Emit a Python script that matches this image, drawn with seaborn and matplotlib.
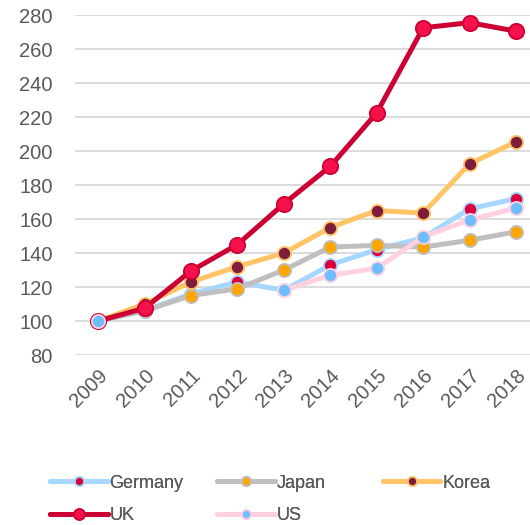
import matplotlib
matplotlib.use("Agg")
import matplotlib.pyplot as plt
from matplotlib.lines import Line2D
import seaborn as sns
import pandas as pd
import numpy as np

# index values (2009 = 100); US has no points for 2010-2012
years = [2009, 2010, 2011, 2012, 2013, 2014, 2015, 2016, 2017, 2018]
germany = [100, 106, 116, 123, 118, 133, 142, 149, 166, 172]
japan = [100, 106, 115, 119, 130, 143.5, 144.5, 143.5, 147.5, 152.5]
korea = [100, 110, 123, 132, 140, 155, 165, 163.5, 192.5, 205.5]
uk = [100, 107.5, 129.5, 145, 169, 191, 222.5, 272.5, 275.5, 270.5]
us = [100, None, None, None, 118, 127, 131, 149.5, 159.5, 166.5]

countries = ["Germany", "Japan", "Korea", "UK", "US"]
series = [germany, japan, korea, uk, us]

# line colour, marker fill, marker edge, line width, marker size
styles = {
    "Germany": ("#A6D7FF", "#D9003C", "#A6D7FF", 3.6, 9.5),
    "Japan": ("#BFBFBF", "#FFA500", "#BFBFBF", 3.6, 9.5),
    "Korea": ("#FFC466", "#7E1C3C", "#FFC466", 3.6, 9.5),
    "UK": ("#CC0033", "#F5124C", "#CC0033", 3.6, 11),
    "US": ("#FFD1DF", "#6EBEFF", "#FFD1DF", 3.6, 9.5),
}

df = pd.DataFrame({
    "year": years * len(countries),
    "value": [np.nan if v is None else v for s in series for v in s],
    "country": [c for c in countries for _ in years],
})

sns.set_style("white")
plt.rcParams["font.family"] = ["Liberation Sans", "DejaVu Sans"]

fig = plt.figure(figsize=(5.3, 5.25), dpi=100)
ax = fig.add_axes([0.1415, 0.3238, 0.8585, 0.6476])

for c in countries:
    lc, fc, ec, lw, ms = styles[c]
    d = df[df.country == c]
    # split at missing values so the line breaks there
    run = d.value.isna().cumsum()
    for _, part in d[d.value.notna()].groupby(run[d.value.notna()]):
        sns.lineplot(data=part, x="year", y="value", ax=ax,
                     color=lc, linewidth=lw, marker="o", markersize=ms,
                     markerfacecolor=fc, markeredgecolor=ec, markeredgewidth=1.3,
                     clip_on=False, legend=False)

ax.set_ylim(80, 280)
ax.set_yticks(range(80, 281, 20))
ax.set_xlim(2008.5, 2018.3)
ax.set_xticks(years)
ax.set_xlabel("")
ax.set_ylabel("")
ax.grid(axis="y", color="#D9D9D9", linewidth=1.3)
ax.set_axisbelow(True)
for s in ax.spines.values():
    s.set_visible(False)
ax.tick_params(axis="both", length=0, labelsize=14.5, labelcolor="#595959")
ax.tick_params(axis="y", pad=16)
ax.tick_params(axis="x", pad=8)
for lab in ax.get_xticklabels():
    lab.set_rotation(45)
    lab.set_ha("right")
    lab.set_rotation_mode("anchor")

# legend: three columns placed by hand, row-major order
cols = [["Germany", "UK"], ["Japan", "US"], ["Korea"]]
xs = [0.094, 0.409, 0.722]
for names, x0 in zip(cols, xs):
    handles = []
    for n in names:
        lc, fc, ec, lw, ms = styles[n]
        handles.append(Line2D([], [], color=lc, linewidth=lw, marker="o",
                              markersize=ms * 0.7, markerfacecolor=fc,
                              markeredgecolor=ec, markeredgewidth=1.3))
    leg = fig.legend(handles, names, loc="upper left", bbox_to_anchor=(x0, 0.096),
                     bbox_transform=fig.transFigure, frameon=False,
                     fontsize=13, labelcolor="#595959", handlelength=3.2,
                     handletextpad=0.1, labelspacing=0.85, borderpad=0, borderaxespad=0)
    fig.add_artist(leg)

fig.savefig("out.png", dpi=100)
